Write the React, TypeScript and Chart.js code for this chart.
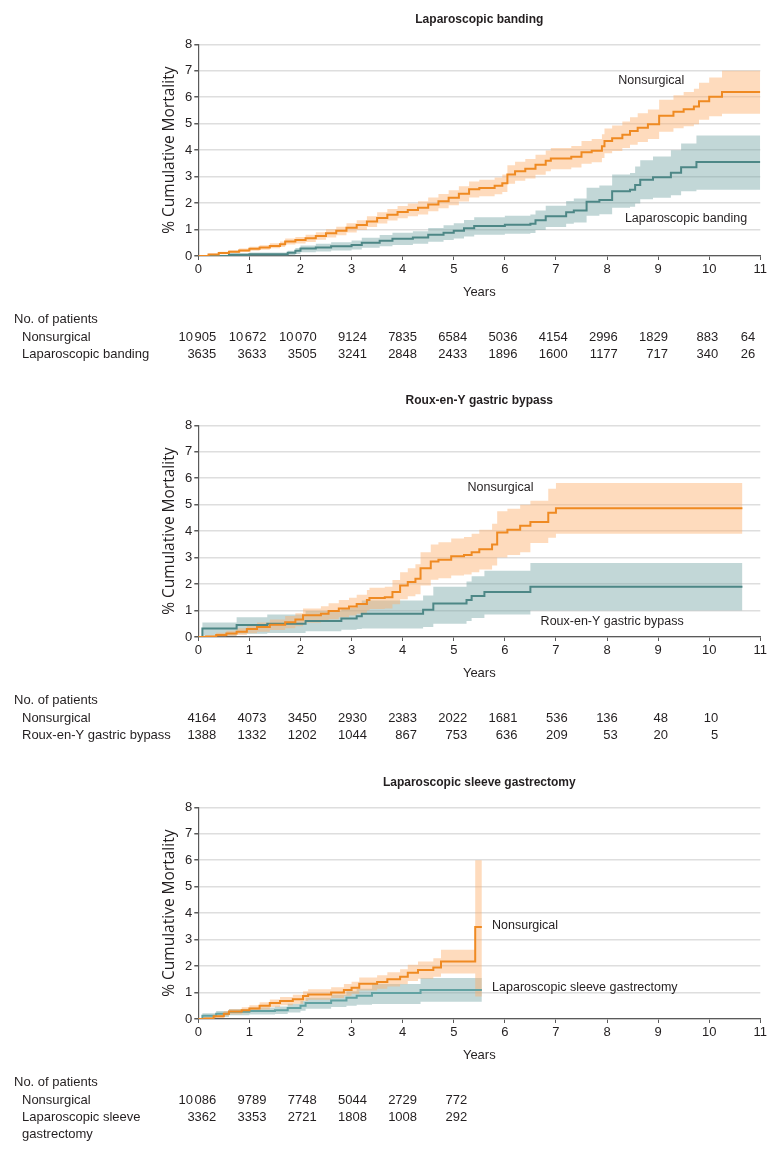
import React, { useEffect, useRef } from "react";
import { Chart, registerables } from "chart.js";

Chart.register(...registerables);

// ---------- shared axis values ----------
const X_MIN = 0;
const X_MAX = 11;
const Y_MIN = 0;
const Y_MAX = 8;
const RISK_YEARS = [0, 1, 2, 3, 4, 5, 6, 7, 8, 9, 10, 11];

// ---------- Panel 1: Laparoscopic banding ----------
const p1Title = "Laparoscopic banding";
const p1NonT = [0, 0.2, 0.4, 0.6, 0.8, 1.0, 1.2, 1.4, 1.6, 1.7, 1.9, 2.1, 2.3, 2.5, 2.7, 2.9, 3.1, 3.3, 3.5, 3.7, 3.9, 4.1, 4.3, 4.5, 4.7, 4.9, 5.1, 5.3, 5.5, 5.8, 5.95, 6.05, 6.2, 6.4, 6.6, 6.8, 6.9, 7.3, 7.5, 7.7, 7.9, 7.95, 8.1, 8.3, 8.45, 8.6, 8.8, 9.02, 9.3, 9.5, 9.7, 9.8, 10.0, 10.25, 11];
const p1NonEst = [0, 0.06, 0.11, 0.16, 0.21, 0.27, 0.32, 0.38, 0.44, 0.55, 0.6, 0.67, 0.76, 0.86, 0.95, 1.07, 1.17, 1.3, 1.44, 1.56, 1.66, 1.74, 1.82, 1.95, 2.07, 2.2, 2.35, 2.52, 2.57, 2.65, 2.75, 3.08, 3.2, 3.3, 3.45, 3.6, 3.68, 3.75, 3.92, 3.98, 4.15, 4.35, 4.45, 4.58, 4.72, 4.85, 4.98, 5.3, 5.45, 5.55, 5.65, 5.85, 6.02, 6.2, 6.2];
const p1NonLo = [0, 0.03, 0.07, 0.11, 0.15, 0.2, 0.24, 0.29, 0.34, 0.43, 0.47, 0.53, 0.61, 0.7, 0.78, 0.89, 0.98, 1.1, 1.23, 1.34, 1.43, 1.5, 1.57, 1.69, 1.8, 1.92, 2.06, 2.21, 2.26, 2.33, 2.42, 2.73, 2.84, 2.93, 3.07, 3.2, 3.28, 3.34, 3.49, 3.54, 3.7, 3.88, 3.97, 4.08, 4.2, 4.31, 4.42, 4.7, 4.83, 4.9, 4.98, 5.15, 5.28, 5.38, 5.38];
const p1NonHi = [0, 0.09, 0.16, 0.22, 0.28, 0.35, 0.41, 0.48, 0.55, 0.66, 0.72, 0.8, 0.9, 1.01, 1.11, 1.24, 1.35, 1.5, 1.65, 1.78, 1.89, 1.98, 2.07, 2.21, 2.34, 2.48, 2.64, 2.82, 2.88, 2.97, 3.08, 3.43, 3.56, 3.67, 3.83, 3.99, 4.08, 4.16, 4.35, 4.42, 4.6, 4.82, 4.93, 5.08, 5.24, 5.39, 5.54, 5.9, 6.07, 6.2, 6.32, 6.55, 6.75, 7.0, 7.0];
const p1SurgT = [0, 0.6, 1.0, 1.75, 1.9, 2.0, 2.3, 2.6, 3.0, 3.2, 3.55, 3.8, 4.2, 4.5, 4.8, 5.0, 5.2, 5.4, 6.0, 6.5, 6.6, 6.8, 7.2, 7.35, 7.6, 7.85, 8.1, 8.45, 8.55, 8.65, 8.9, 9.25, 9.45, 9.75, 11];
const p1SurgEst = [0, 0.05, 0.07, 0.12, 0.2, 0.28, 0.32, 0.37, 0.42, 0.5, 0.58, 0.65, 0.7, 0.8, 0.88, 0.95, 1.05, 1.13, 1.18, 1.22, 1.35, 1.5, 1.65, 1.72, 2.05, 2.12, 2.45, 2.5, 2.68, 2.88, 2.98, 3.15, 3.35, 3.55, 3.55];
const p1SurgLo = [0, 0.0, 0.01, 0.03, 0.08, 0.14, 0.17, 0.21, 0.25, 0.31, 0.37, 0.42, 0.46, 0.54, 0.6, 0.66, 0.74, 0.8, 0.84, 0.87, 0.98, 1.1, 1.22, 1.27, 1.52, 1.58, 1.82, 1.86, 1.98, 2.14, 2.2, 2.3, 2.45, 2.5, 2.5];
const p1SurgHi = [0, 0.1, 0.13, 0.2, 0.3, 0.4, 0.46, 0.52, 0.59, 0.69, 0.79, 0.88, 0.94, 1.06, 1.16, 1.24, 1.36, 1.46, 1.52, 1.57, 1.72, 1.9, 2.08, 2.17, 2.58, 2.66, 3.08, 3.14, 3.38, 3.62, 3.76, 4.0, 4.25, 4.55, 4.55];
const p1RiskLabels = ["Nonsurgical", "Laparoscopic banding"];
const p1RiskNon = [10905, 10672, 10070, 9124, 7835, 6584, 5036, 4154, 2996, 1829, 883, 64];
const p1RiskSurg = [3635, 3633, 3505, 3241, 2848, 2433, 1896, 1600, 1177, 717, 340, 26];

// ---------- Panel 2: Roux-en-Y gastric bypass ----------
const p2Title = "Roux-en-Y gastric bypass";
const p2NonT = [0, 0.15, 0.35, 0.55, 0.75, 0.95, 1.15, 1.4, 1.7, 1.9, 2.05, 2.4, 2.55, 2.75, 2.95, 3.1, 3.3, 3.35, 3.65, 3.8, 3.95, 4.1, 4.25, 4.35, 4.55, 4.7, 4.95, 5.2, 5.35, 5.5, 5.75, 5.85, 6.05, 6.3, 6.5, 6.85, 7.0, 10.65];
const p2NonEst = [0, 0.02, 0.08, 0.13, 0.2, 0.3, 0.38, 0.46, 0.56, 0.66, 0.82, 0.88, 0.98, 1.08, 1.15, 1.25, 1.4, 1.47, 1.5, 1.7, 1.95, 2.08, 2.2, 2.6, 2.85, 2.92, 3.05, 3.1, 3.2, 3.32, 3.5, 3.95, 4.05, 4.2, 4.35, 4.7, 4.87, 4.87];
const p2NonLo = [0, 0, 0.02, 0.04, 0.08, 0.14, 0.2, 0.26, 0.33, 0.41, 0.54, 0.59, 0.67, 0.75, 0.81, 0.88, 1.0, 1.06, 1.08, 1.24, 1.43, 1.54, 1.62, 1.95, 2.16, 2.22, 2.32, 2.36, 2.45, 2.55, 2.7, 3.0, 3.1, 3.2, 3.55, 3.75, 3.9, 3.9];
const p2NonHi = [0, 0.06, 0.16, 0.24, 0.33, 0.45, 0.55, 0.66, 0.79, 0.9, 1.08, 1.16, 1.28, 1.4, 1.48, 1.6, 1.78, 1.86, 1.9, 2.15, 2.45, 2.6, 2.75, 3.2, 3.5, 3.58, 3.72, 3.78, 3.9, 4.05, 4.28, 4.75, 4.85, 5.0, 5.15, 5.6, 5.82, 5.82];
const p2SurgT = [0, 0.08, 0.75, 1.35, 2.1, 2.8, 3.1, 3.2, 4.4, 4.6, 5.25, 5.35, 5.6, 6.5, 10.65];
const p2SurgEst = [0, 0.32, 0.45, 0.5, 0.6, 0.7, 0.78, 0.88, 1.03, 1.27, 1.4, 1.55, 1.7, 1.9, 1.9];
const p2SurgLo = [0, 0.05, 0.12, 0.15, 0.22, 0.27, 0.3, 0.32, 0.38, 0.5, 0.6, 0.72, 0.85, 1.0, 1.0];
const p2SurgHi = [0, 0.55, 0.75, 0.85, 0.98, 1.1, 1.25, 1.38, 1.57, 1.9, 2.1, 2.3, 2.5, 2.8, 2.8];
const p2RiskLabels = ["Nonsurgical", "Roux-en-Y gastric bypass"];
const p2RiskNon = [4164, 4073, 3450, 2930, 2383, 2022, 1681, 536, 136, 48, 10];
const p2RiskSurg = [1388, 1332, 1202, 1044, 867, 753, 636, 209, 53, 20, 5];

// ---------- Panel 3: Laparoscopic sleeve gastrectomy ----------
const p3Title = "Laparoscopic sleeve gastrectomy";
const p3NonT = [0, 0.12, 0.3, 0.5, 0.6, 0.85, 1.0, 1.2, 1.4, 1.6, 1.85, 2.05, 2.15, 2.6, 2.85, 3.0, 3.15, 3.5, 3.7, 3.95, 4.1, 4.3, 4.6, 4.75, 5.42, 5.55];
const p3NonEst = [0, 0.02, 0.1, 0.2, 0.28, 0.33, 0.4, 0.5, 0.6, 0.68, 0.75, 0.87, 0.93, 1.0, 1.1, 1.18, 1.33, 1.4, 1.5, 1.6, 1.75, 1.85, 1.95, 2.17, 3.48, 3.48];
const p3NonLo = [0, 0, 0.04, 0.12, 0.18, 0.22, 0.28, 0.36, 0.45, 0.52, 0.58, 0.68, 0.73, 0.79, 0.88, 0.95, 1.08, 1.14, 1.23, 1.31, 1.44, 1.52, 1.6, 1.72, 0.85, 0.85];
const p3NonHi = [0, 0.06, 0.17, 0.3, 0.38, 0.44, 0.52, 0.63, 0.74, 0.83, 0.92, 1.05, 1.12, 1.2, 1.32, 1.41, 1.57, 1.65, 1.77, 1.88, 2.05, 2.17, 2.3, 2.62, 6.0, 6.0];
const p3SurgT = [0, 0.08, 0.35, 0.6, 1.0, 1.5, 1.75, 2.0, 2.1, 2.6, 2.9, 3.1, 3.4, 4.35, 5.55];
const p3SurgEst = [0, 0.12, 0.2, 0.27, 0.3, 0.33, 0.42, 0.5, 0.6, 0.7, 0.8, 0.88, 0.98, 1.1, 1.1];
const p3SurgLo = [0, 0.03, 0.08, 0.14, 0.17, 0.19, 0.25, 0.31, 0.39, 0.45, 0.5, 0.54, 0.57, 0.65, 0.65];
const p3SurgHi = [0, 0.22, 0.3, 0.38, 0.43, 0.47, 0.58, 0.68, 0.8, 0.92, 1.05, 1.14, 1.32, 1.55, 1.55];
const p3RiskLabels = ["Nonsurgical", "Laparoscopic sleeve\ngastrectomy"];
const p3RiskNon = [10086, 9789, 7748, 5044, 2729, 772];
const p3RiskSurg = [3362, 3353, 2721, 1808, 1008, 292];

// ---------- styles ----------
const FONT = '"Liberation Sans", Arial, sans-serif';
const LABEL_FONT = '"Open Sans", "Noto Sans", sans-serif';
const TEXT = "#231f20";
const AXIS = "#5a5a5a";
const GRID = "#dedede";
const ORANGE_LINE = "#ef8a22";
const ORANGE_BAND = "rgba(252, 176, 108, 0.45)";
const TEAL_LINE = "#4d8786";
const TEAL_LINE_LIGHT = "#62a2a2";
const TEAL_BAND = "rgba(110, 160, 160, 0.42)";

const PLOT_LEFT = 198.3;
const PLOT_RIGHT = 760.3;
const PLOT_TOP = 44.3;
const PLOT_BOTTOM = 256;
const X_AXIS_H = 24;

type Series = { t: number[]; est: number[]; lo: number[]; hi: number[]; line: string; band: string };
type Note = { text: string; x: number; y: number };
type PanelCfg = {
  title: string;
  top: number;
  height: number;
  non: Series;
  surg: Series;
  notes: Note[];
  riskLabels: string[];
  riskNon: number[];
  riskSurg: number[];
};

const panels: PanelCfg[] = [
  {
    title: p1Title,
    top: 0,
    height: 381,
    non: { t: p1NonT, est: p1NonEst, lo: p1NonLo, hi: p1NonHi, line: ORANGE_LINE, band: ORANGE_BAND },
    surg: { t: p1SurgT, est: p1SurgEst, lo: p1SurgLo, hi: p1SurgHi, line: TEAL_LINE, band: TEAL_BAND },
    notes: [
      { text: "Nonsurgical", x: 8.22, y: 6.62 },
      { text: "Laparoscopic banding", x: 8.35, y: 1.42 },
    ],
    riskLabels: p1RiskLabels,
    riskNon: p1RiskNon,
    riskSurg: p1RiskSurg,
  },
  {
    title: p2Title,
    top: 381,
    height: 382,
    non: { t: p2NonT, est: p2NonEst, lo: p2NonLo, hi: p2NonHi, line: ORANGE_LINE, band: ORANGE_BAND },
    surg: { t: p2SurgT, est: p2SurgEst, lo: p2SurgLo, hi: p2SurgHi, line: TEAL_LINE, band: TEAL_BAND },
    notes: [
      { text: "Nonsurgical", x: 5.27, y: 5.63 },
      { text: "Roux-en-Y gastric bypass", x: 6.7, y: 0.6 },
    ],
    riskLabels: p2RiskLabels,
    riskNon: p2RiskNon,
    riskSurg: p2RiskSurg,
  },
  {
    title: p3Title,
    top: 763,
    height: 391,
    non: { t: p3NonT, est: p3NonEst, lo: p3NonLo, hi: p3NonHi, line: ORANGE_LINE, band: ORANGE_BAND },
    surg: { t: p3SurgT, est: p3SurgEst, lo: p3SurgLo, hi: p3SurgHi, line: TEAL_LINE_LIGHT, band: TEAL_BAND },
    notes: [
      { text: "Nonsurgical", x: 5.75, y: 3.53 },
      { text: "Laparoscopic sleeve gastrectomy", x: 5.75, y: 1.17 },
    ],
    riskLabels: p3RiskLabels,
    riskNon: p3RiskNon,
    riskSurg: p3RiskSurg,
  },
];

const pts = (t: number[], v: number[]) => t.map((x, i) => ({ x, y: v[i] }));

// right-aligned number with a thin gap for thousands in 5-digit values
function drawCount(ctx: CanvasRenderingContext2D, n: number, right: number, y: number) {
  const s = String(n);
  if (n < 10000) {
    ctx.fillText(s, right, y);
    return;
  }
  const tail = s.slice(s.length - 3);
  const head = s.slice(0, s.length - 3);
  ctx.fillText(tail, right, y);
  const w = ctx.measureText(tail).width;
  ctx.fillText(head, right - w - 1.6, y);
}

function makeTextPlugin(cfg: PanelCfg) {
  return {
    id: "panelText",
    afterDraw(chart: any) {
      const { ctx, chartArea } = chart;
      const x = chart.scales.x;
      const y = chart.scales.y;
      const cx = (chartArea.left + chartArea.right) / 2;
      ctx.save();
      ctx.fillStyle = TEXT;
      ctx.textBaseline = "middle";

      // title
      ctx.textAlign = "center";
      ctx.font = `bold 12px ${FONT}`;
      ctx.fillText(cfg.title, cx, chartArea.top - 25);

      // x-axis title
      ctx.font = `13px ${FONT}`;
      ctx.fillText("Years", cx, chartArea.bottom + 36);

      // y-axis title
      ctx.save();
      ctx.translate(chartArea.left - 29, (chartArea.top + chartArea.bottom) / 2);
      ctx.rotate(-Math.PI / 2);
      ctx.font = `15.5px ${LABEL_FONT}`;
      ctx.fillText("% Cumulative Mortality", 0, 0);
      ctx.restore();

      // curve labels
      ctx.textAlign = "left";
      ctx.font = `12.5px ${FONT}`;
      cfg.notes.forEach((n) => {
        ctx.fillText(n.text, x.getPixelForValue(n.x), y.getPixelForValue(n.y));
      });

      // risk table
      const base = chartArea.bottom;
      ctx.font = `13px ${FONT}`;
      ctx.fillText("No. of patients", 14, base + 63);
      const rows = [cfg.riskNon, cfg.riskSurg];
      const rowY = [base + 81, base + 98];
      rows.forEach((vals, r) => {
        ctx.textAlign = "left";
        cfg.riskLabels[r].split("\n").forEach((line, k) => {
          ctx.fillText(line, 22, rowY[r] + k * 17);
        });
        ctx.textAlign = "right";
        vals.forEach((v, i) => {
          const yr = RISK_YEARS[i];
          const px = Math.min(x.getPixelForValue(yr) + 18 - 0.9 * yr, chartArea.right - 5);
          drawCount(ctx, v, px, rowY[r]);
        });
      });
      ctx.restore();
    },
  };
}

function Panel({ cfg }: { cfg: PanelCfg }) {
  const ref = useRef<HTMLCanvasElement | null>(null);
  useEffect(() => {
    if (!ref.current) return;
    const bandBase = { borderWidth: 0, borderColor: "transparent", pointRadius: 0, stepped: true as const };
    const lineBase = { borderWidth: 2, pointRadius: 0, stepped: true as const, fill: false, borderJoinStyle: "miter" as const };
    const chart = new Chart(ref.current, {
      type: "line",
      data: {
        datasets: [
          { ...bandBase, data: pts(cfg.surg.t, cfg.surg.hi), fill: false, order: 5 },
          { ...bandBase, data: pts(cfg.surg.t, cfg.surg.lo), fill: 0, backgroundColor: cfg.surg.band, order: 4 },
          { ...bandBase, data: pts(cfg.non.t, cfg.non.hi), fill: false, order: 3 },
          { ...bandBase, data: pts(cfg.non.t, cfg.non.lo), fill: 2, backgroundColor: cfg.non.band, order: 2 },
          { ...lineBase, data: pts(cfg.surg.t, cfg.surg.est), borderColor: cfg.surg.line, order: 1 },
          { ...lineBase, data: pts(cfg.non.t, cfg.non.est), borderColor: cfg.non.line, order: 0 },
        ] as any,
      },
      options: {
        responsive: false,
        maintainAspectRatio: false,
        animation: false,
        events: [],
        layout: {
          padding: {
            left: 0,
            right: 783 - PLOT_RIGHT,
            top: PLOT_TOP,
            bottom: cfg.height - PLOT_BOTTOM - X_AXIS_H,
          },
        },
        scales: {
          x: {
            type: "linear",
            min: X_MIN,
            max: X_MAX,
            ticks: { stepSize: 1, color: TEXT, font: { family: FONT, size: 13 }, padding: 2, maxRotation: 0, autoSkip: false },
            grid: { drawOnChartArea: false, drawTicks: true, tickLength: 4, tickColor: AXIS },
            border: { color: AXIS, width: 1.2 },
            afterFit: (s: any) => {
              s.height = X_AXIS_H;
            },
          },
          y: {
            min: Y_MIN,
            max: Y_MAX,
            ticks: { stepSize: 1, color: TEXT, font: { family: FONT, size: 13 }, padding: 2 },
            grid: { color: GRID, lineWidth: 1.5, drawTicks: true, tickLength: 4, tickColor: AXIS },
            border: { color: AXIS, width: 1.2 },
            afterFit: (s: any) => {
              s.width = PLOT_LEFT;
            },
          },
        },
        plugins: { legend: { display: false }, tooltip: { enabled: false }, title: { display: false } },
      } as any,
      plugins: [makeTextPlugin(cfg)],
    });
    return () => chart.destroy();
  }, [cfg]);
  return (
    <canvas
      ref={ref}
      width={783}
      height={cfg.height}
      style={{ position: "absolute", left: 0, top: cfg.top, width: 783, height: cfg.height }}
    />
  );
}

export default function App() {
  return (
    <div style={{ position: "absolute", left: 0, top: 0, width: 783, height: 1154, background: "#fff", overflow: "hidden" }}>
      {panels.map((p, i) => (
        <Panel key={i} cfg={p} />
      ))}
    </div>
  );
}
